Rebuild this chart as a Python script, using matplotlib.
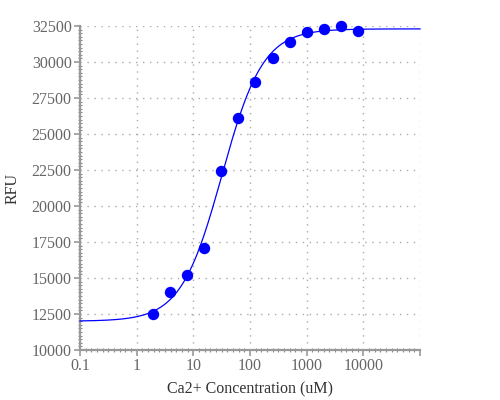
import numpy as np
import matplotlib
matplotlib.use("Agg")
import matplotlib.pyplot as plt
from matplotlib.ticker import FixedLocator, MultipleLocator, NullFormatter

# Data
conc = [1.95, 3.9, 7.8, 15.6, 31.25, 62.5, 125, 250, 500, 1000, 2000, 4000, 8000]
rfu = [12500, 14000, 15200, 17100, 22400, 26100, 28600, 30250, 31400, 32100, 32300, 32500, 32150]

# Fitted 4-parameter logistic curve parameters
fit_bottom = 12000
fit_top = 32300
fit_ec50 = 32
fit_hill = 1.2

x_ticks = [0.1, 1, 10, 100, 1000, 10000, 100000]
x_tick_labels = ["0.1", "1", "10", "100", "1000", "10000", ""]
y_ticks = [10000, 12500, 15000, 17500, 20000, 22500, 25000, 27500, 30000, 32500]

plt.rcParams['font.family'] = ['Liberation Serif', 'DejaVu Serif']

fig = plt.figure(figsize=(5, 4), dpi=100)
ax = fig.add_axes([0.16, 0.125, 0.68, 0.81])

xs = np.logspace(-1, 5, 400)
ys = fit_bottom + (fit_top - fit_bottom) / (1 + (fit_ec50 / xs) ** fit_hill)
ax.plot(xs, ys, color='#0000ff', lw=0.9, zorder=3, clip_on=False)
ax.plot(conc, rfu, 'o', color='#0000ff', ms=7.2, mec='#0000ff', zorder=4, clip_on=False)

ax.set_xscale('log')
ax.set_xlim(0.1, 100000)
ax.set_ylim(10000, 32500)
ax.xaxis.set_major_locator(FixedLocator(x_ticks))
ax.set_xticklabels(x_tick_labels)
ax.xaxis.set_minor_locator(FixedLocator([10 ** (k / 10) for k in range(-10, 51)]))
ax.xaxis.set_minor_formatter(NullFormatter())
ax.set_yticks(y_ticks)
ax.yaxis.set_minor_locator(MultipleLocator(250))
ax.yaxis.set_minor_formatter(NullFormatter())

ax.grid(True, which='major', color='#aaaaaa', linestyle=(0, (1, 4)), linewidth=1.0)

for s in ['top', 'right']:
    ax.spines[s].set_visible(False)
for s in ['left', 'bottom']:
    ax.spines[s].set_color('#999999')
    ax.spines[s].set_linewidth(1.6)

ax.tick_params(which='major', direction='out', length=4.5, width=1.2, color='#999999',
               labelsize=11.5, labelcolor='#666666', pad=1.5)
ax.tick_params(which='minor', direction='inout', length=2.5, width=0.8, color='#888888')

ax.set_xlabel('Ca2+ Concentration (uM)', fontsize=11.5, color='#333333', labelpad=5)
ax.set_ylabel('RFU', fontsize=11.5, color='#333333', labelpad=8)

fig.savefig('out.png', dpi=100)
